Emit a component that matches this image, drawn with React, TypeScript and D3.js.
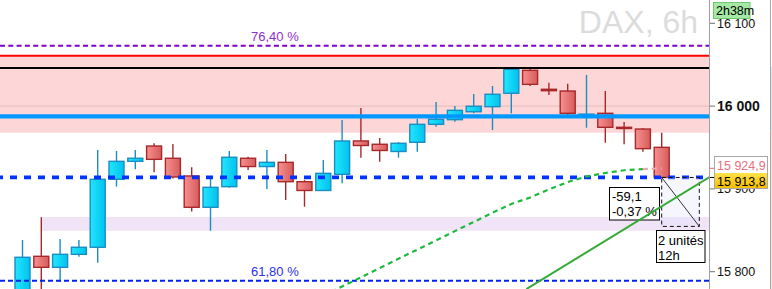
import React from 'react';
import * as d3 from 'd3';

const W = 772;
const H = 289;

// ---- candle data (DAX, 6h) ----
const opens = [15770, 15818.6, 15805.3, 15821.0, 15829.5, 15911.6, 15933.3, 15951.8, 15937.0, 15915.6, 15877.8, 15902.7, 15937.0, 15927.0, 15932.1, 15908.7, 15898.1, 15917.6, 15957.9, 15953.9, 15945.2, 15956.3, 15978.0, 15983.6, 15993.2, 15999.3, 16015.5, 16043.2, 16020.3, 16018.2, 15988.5, 15991.3, 15974.4, 15972.3, 15950.2];
const highs = [15838.3, 15865.7, 15839.5, 15838.3, 15947.0, 15945.8, 15947.0, 15955.1, 15954.2, 15926.1, 15913.2, 15945.8, 15938.9, 15947.0, 15942.1, 15910.7, 15934.9, 15983.2, 15997.7, 15961.5, 15956.6, 15984.4, 16005.0, 16000.1, 16014.6, 16024.3, 16044.8, 16044.8, 16028.3, 16027.1, 16037.6, 16018.2, 15980.8, 15973.6, 15967.9];
const lows = [15760, 15765, 15787.9, 15818.1, 15810.9, 15902.7, 15923.7, 15920.0, 15912.5, 15872.7, 15849.5, 15901.4, 15922.8, 15899.9, 15886.6, 15878.5, 15898.0, 15906.8, 15937.7, 15932.9, 15937.7, 15944.9, 15975.1, 15981.2, 15991.3, 15971.1, 15991.3, 16024.3, 16013.4, 15989.0, 15973.9, 15955.8, 15953.9, 15944.9, 15913.8];
const closes = [15817.4, 15805.3, 15821.0, 15829.5, 15911.6, 15933.3, 15937.0, 15935.7, 15914.4, 15877.8, 15901.9, 15938.2, 15927.0, 15932.1, 15908.7, 15898.1, 15918.8, 15957.9, 15952.4, 15946.4, 15955.1, 15978.0, 15984.1, 15994.9, 15999.8, 16014.3, 16044.4, 16026.3, 16018.6, 15991.3, 15990.3, 15974.4, 15973.5, 15948.6, 15913.8];

// moving average (starts at candle index 16)
const maStartIndex = 16;
const maValues = [15771.0, 15782.1, 15793.2, 15804.3, 15815.6, 15826.7, 15837.8, 15849.0, 15860.1, 15871.3, 15881.8, 15889.6, 15899.3, 15908.3, 15915.0, 15919.2, 15922.5, 15923.8, 15924.9];

// trend line anchors [candle index, price]
const trendIndex = [26.8, 36.6];
const trendPrice = [15779, 15915];

// levels
const priceTicks = [15800, 15900, 16000, 16100];
const boldTick = 16000;
const fibPrices = [16072.9, 15789];
const fibLabels = ['76,40 %', '61,80 %'];
const zonePrices = [16061, 15967.9];
const redLevel = 16060.9;
const blackLevel = 16046;
const blueLevel = 15987.7;
const lavenderPrices = [15866.1, 15849.5];
const lavenderStartIndex = 1;
const lastPrice = 15913.8;
const maLast = 15924.9;

// measurement tool
const measureIndex = [34, 36];
const measurePrice = [15913.8, 15854.7];
const measureText = ['-59,1', '-0,37 %'];
const measureTime = ['2 unités', '12h'];

const timerText = '2h38m';
const titleText = 'DAX, 6h';

const locale = d3.formatLocale({ decimal: ',', thousands: ' ', grouping: [3], currency: ['', ''] });
const fmt0 = locale.format(',.0f');
const fmt1 = locale.format(',.1f');

const FONT = 'Liberation Sans, Arial, sans-serif';

export default function App() {
  React.useEffect(() => {
    document.body.style.margin = '0';
    document.body.style.overflow = 'hidden';
  }, []);

  const plotRight = 709;
  const x = d3.scaleLinear().domain([0, 34]).range([22.5, 661.7]);
  const y = d3.scaleLinear().domain([15800, 16100]).range([271.7, 23.3]);
  const bodyW = 15;

  const maLine = d3
    .line<number>()
    .x((_, i) => x(i + maStartIndex))
    .y((d) => y(d));
  const maMain = maValues.slice(0, maValues.length - 1);
  const maTail = maValues.slice(maValues.length - 2);
  const maTailPath = d3
    .line<number>()
    .x((_, i) => x(i + maStartIndex + maValues.length - 2))
    .y((d) => y(d))(maTail);

  const mx0 = x(measureIndex[0]);
  const mx1 = x(measureIndex[1]);
  const my0 = y(measurePrice[0]);
  const my1 = y(measurePrice[1]);

  return (
    <svg width={W} height={H} style={{ position: 'absolute', left: 0, top: 0, display: 'block' }} fontFamily={FONT}>
      <defs>
        <linearGradient id="gBlue" x1="0" x2="1" y1="0" y2="0">
          <stop offset="0" stopColor="#22E6FF" />
          <stop offset="1" stopColor="#00C2EE" />
        </linearGradient>
        <linearGradient id="gRed" x1="0" x2="1" y1="0" y2="0">
          <stop offset="0" stopColor="#F79090" />
          <stop offset="1" stopColor="#D65C5C" />
        </linearGradient>
        <linearGradient id="gYellow" x1="0" x2="0" y1="0" y2="1">
          <stop offset="0" stopColor="#FFE24A" />
          <stop offset="1" stopColor="#F6BC00" />
        </linearGradient>
        <clipPath id="plotClip">
          <rect x={0} y={0} width={plotRight} height={H} />
        </clipPath>
      </defs>
      <rect x={0} y={0} width={W} height={H} fill="#FFFFFF" />

      <g clipPath="url(#plotClip)">
        {/* zones */}
        <rect x={0} y={y(zonePrices[0])} width={plotRight} height={y(zonePrices[1]) - y(zonePrices[0])} fill="#FDD7D7" />
        <rect
          x={x(lavenderStartIndex)}
          y={y(lavenderPrices[0])}
          width={plotRight - x(lavenderStartIndex)}
          height={y(lavenderPrices[1]) - y(lavenderPrices[0])}
          fill="#F0E4F6"
        />
        <line x1={0} x2={plotRight} y1={y(boldTick)} y2={y(boldTick)} stroke="#E6BABA" strokeWidth={1} />

        {/* candles */}
        {opens.map((o, i) => {
          const c = closes[i];
          const up = c >= o;
          const cx = x(i);
          const top = y(Math.max(o, c));
          const h = Math.max(1.2, Math.abs(y(o) - y(c)));
          const stroke = up ? '#1A8EC2' : '#A8282A';
          return (
            <g key={i}>
              <line x1={cx} x2={cx} y1={y(highs[i])} y2={y(lows[i])} stroke={stroke} strokeWidth={1.4} />
              <rect x={cx - bodyW / 2} y={top} width={bodyW} height={h} fill={up ? 'url(#gBlue)' : 'url(#gRed)'} stroke={stroke} strokeWidth={1.4} />
            </g>
          );
        })}

        {/* horizontal levels */}
        <line x1={0} x2={plotRight} y1={y(redLevel)} y2={y(redLevel)} stroke="#FF0000" strokeWidth={2} />
        <line x1={0} x2={plotRight} y1={y(blackLevel)} y2={y(blackLevel)} stroke="#000000" strokeWidth={2} />
        <line x1={0} x2={plotRight} y1={y(blueLevel)} y2={y(blueLevel)} stroke="#0098FF" strokeWidth={4.3} />
        <line x1={0} x2={plotRight} y1={y(fibPrices[0])} y2={y(fibPrices[0])} stroke="#7E00CC" strokeWidth={2} strokeDasharray="5,3.3" />
        <line x1={0} x2={plotRight} y1={y(fibPrices[1])} y2={y(fibPrices[1])} stroke="#0022EE" strokeWidth={2} strokeDasharray="5,3" />
        <line x1={0} x2={plotRight} y1={y(lastPrice)} y2={y(lastPrice)} stroke="#0033FF" strokeWidth={3.7} strokeDasharray="7,7" strokeDashoffset={4} />

        <text x={251} y={y(fibPrices[0]) - 5} fontSize={13} fill="#9030D0">{fibLabels[0]}</text>
        <text x={251} y={y(fibPrices[1]) - 5} fontSize={13} fill="#3030F0">{fibLabels[1]}</text>

        {/* moving average */}
        <path d={maLine(maMain) || ''} fill="none" stroke="#1DBA3C" strokeWidth={2.2} strokeDasharray="5,4" />
        <path d={maTailPath || ''} fill="none" stroke="#F0A6AE" strokeWidth={2.2} strokeDasharray="5,4" />

        {/* watermark */}
        <text x={698} y={33} fontSize={32} fill="#DCDCDC" textAnchor="end">{titleText}</text>

        {/* measurement tool */}
        <rect x={mx0} y={my0} width={mx1 - mx0} height={my1 - my0} fill="rgba(225,225,255,0.3)" stroke="#111" strokeWidth={1} strokeDasharray="4,3" />
        <line x1={mx0} y1={my0} x2={mx1} y2={my1} stroke="#333" strokeWidth={1} />
        <rect x={609.5} y={187.5} width={50} height={32.5} fill="#FFFFFF" stroke="#000" strokeWidth={1} />
        <text x={612} y={200.5} fontSize={13} fill="#000">{measureText[0]}</text>
        <text x={612} y={215.5} fontSize={13} fill="#000">{measureText[1]}</text>
        <rect x={656.5} y={230.5} width={48.5} height={32} fill="#FFFFFF" stroke="#000" strokeWidth={1} />
        <text x={658} y={244.5} fontSize={13} fill="#000">{measureTime[0]}</text>
        <text x={658} y={259.5} fontSize={13} fill="#000">{measureTime[1]}</text>

        {/* trend line */}
        <line
          x1={x(trendIndex[0])}
          y1={y(trendPrice[0])}
          x2={x(trendIndex[1])}
          y2={y(trendPrice[1])}
          stroke="#35AA35"
          strokeWidth={2}
        />
      </g>

      {/* right axis */}
      <line x1={plotRight + 0.5} x2={plotRight + 0.5} y1={0} y2={H} stroke="#A0A0A0" strokeWidth={1} />
      <line x1={770.5} x2={770.5} y1={0} y2={H} stroke="#A8A8A8" strokeWidth={1} />
      <rect x={771} y={67} width={1} height={63} fill="#DCE6EE" />
      <rect x={771} y={130} width={1} height={159} fill="#FBE3E3" />
      {priceTicks.map((p) => (
        <g key={p}>
          <line x1={plotRight + 1} x2={715} y1={y(p)} y2={y(p)} stroke="#707070" strokeWidth={1} />
          <text
            x={717}
            y={y(p)}
            dy="0.36em"
            fontSize={p === boldTick ? 14 : 12.5}
            fontWeight={p === boldTick ? 'bold' : 'normal'}
            fill="#111"
          >
            {fmt0(p)}
          </text>
        </g>
      ))}

      {/* price labels */}
      <line x1={plotRight + 1} x2={715} y1={y(maLast)} y2={y(maLast)} stroke="#E06070" strokeWidth={1} />
      <line x1={plotRight + 1} x2={715} y1={y(lastPrice)} y2={y(lastPrice)} stroke="#000" strokeWidth={1} />
      <rect x={715} y={156.5} width={52} height={16.5} fill="#FFFFFF" />
      <text x={717} y={165} dy="0.36em" fontSize={12.5} fill="#E8707E">{fmt1(maLast)}</text>
      <rect x={715} y={173} width={52} height={15.5} fill="url(#gYellow)" />
      <text x={717} y={181} dy="0.36em" fontSize={12.5} fill="#000">{fmt1(lastPrice)}</text>
      <rect x={714.5} y={156.5} width={53} height={32} fill="none" stroke="#A8A8A8" strokeWidth={1} />

      {/* timer */}
      <rect x={713.5} y={2.5} width={36.5} height={16} fill="#A6E8A6" stroke="#70C870" strokeWidth={1} />
      <text x={716} y={10.5} dy="0.36em" fontSize={12.5} fill="#000">{timerText}</text>
    </svg>
  );
}
